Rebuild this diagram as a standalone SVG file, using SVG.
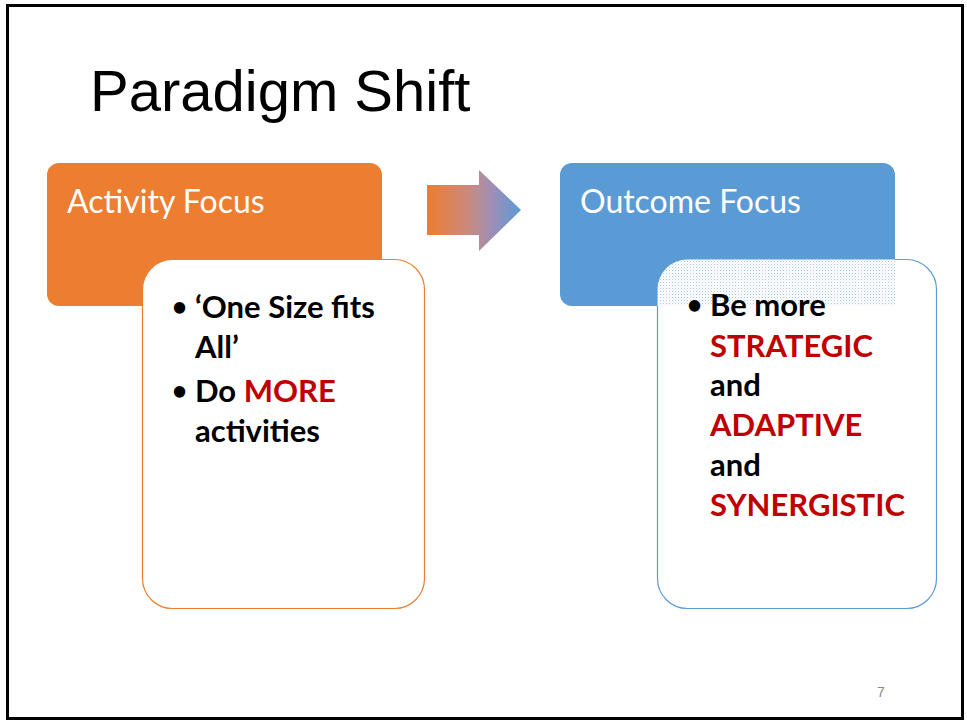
<svg xmlns="http://www.w3.org/2000/svg" width="967" height="723" viewBox="0 0 967 723">
<style>
.title{font-family:"Liberation Sans",Arial,sans-serif;font-size:58px;fill:#000}
.head{font-family:Lato,"Open Sans",sans-serif;font-size:32px;fill:#fff}
.b{font-family:Lato,"Open Sans",sans-serif;font-size:31px;font-weight:bold;fill:#000}
.bu{font-family:Lato,"Open Sans",sans-serif;font-size:26px;font-weight:bold;fill:#000}
.r{fill:#c00000}
</style>
<defs>
<linearGradient id="ag" x1="0" y1="0" x2="1" y2="0">
<stop offset="0" stop-color="#ed7d31"/>
<stop offset="0.45" stop-color="#c98a80"/>
<stop offset="0.7" stop-color="#9c8fb8"/>
<stop offset="1" stop-color="#5b9bd5"/>
</linearGradient>
<pattern id="dots" width="3" height="3" patternUnits="userSpaceOnUse">
<rect width="3" height="3" fill="#fff"/>
<rect width="1" height="1" fill="#a9c6e8"/>
<rect x="1.5" y="1.5" width="1" height="1" fill="#d4e3f3"/>
</pattern>
</defs>
<rect x="0" y="0" width="967" height="723" fill="#fff"/>
<rect x="7.5" y="5.5" width="955" height="713" fill="#fff" stroke="#000" stroke-width="3"/>
<text class="title" x="90" y="111">Paradigm Shift</text>
<g id="activity">
<rect x="47" y="163" width="335" height="143" rx="12" fill="#ed7d31"/>
<text class="head" x="67" y="213">Activity Focus</text>
</g>
<g id="activity-detail">
<rect x="142.5" y="259.5" width="282" height="349" rx="30" fill="#fff" stroke="#ed7d31" stroke-width="1.2"/>
<text class="bu" x="172" y="316">•</text>
<text class="b" x="195" y="318">‘One Size fits</text>
<text class="b" x="195" y="358">All’</text>
<text class="bu" x="172" y="400">•</text>
<text class="b" x="195" y="402">Do <tspan class="r">MORE</tspan></text>
<text class="b" x="195" y="442">activities</text>
</g>
<g id="connectors">
<polygon points="427,185 479,185 479,170 521,210 479,251 479,235 427,235" fill="url(#ag)"/>
</g>
<g id="outcome">
<rect x="560" y="163" width="335" height="143" rx="12" fill="#5b9bd5"/>
<text class="head" x="580" y="213">Outcome Focus</text>
</g>
<g id="outcome-detail">
<rect x="657.5" y="259.5" width="279" height="349" rx="30" fill="#fff" stroke="#5b9bd5" stroke-width="1.2"/>
<path d="M657.5,306 V289.5 A30,30 0 0 1 687.5,259.5 H895 V306 Z" fill="url(#dots)"/>
<text class="bu" x="687" y="314">•</text>
<text class="b" x="710" y="316">Be more</text>
<text class="b r" x="710" y="357">STRATEGIC</text>
<text class="b" x="710" y="396">and</text>
<text class="b r" x="710" y="436">ADAPTIVE</text>
<text class="b" x="710" y="476">and</text>
<text class="b r" x="710" y="516">SYNERGISTIC</text>
</g>
<text x="877" y="697" font-family="Liberation Sans,Arial,sans-serif" font-size="14" fill="#888">7</text>
</svg>
